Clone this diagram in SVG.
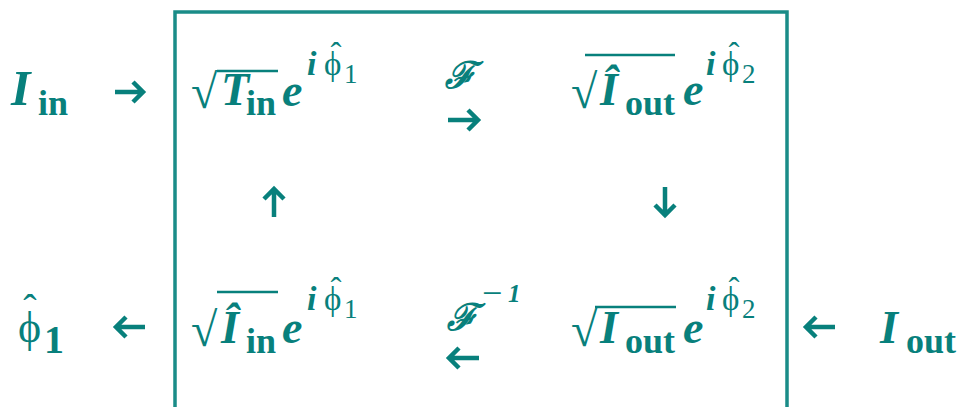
<svg xmlns="http://www.w3.org/2000/svg" width="962" height="407" viewBox="0 0 962 407">
<style>
text{fill:#08807c;font-family:"Liberation Serif","Times New Roman",serif}
.bi{font-weight:bold;font-style:italic;font-size:46px}
.si{font-weight:bold;font-style:italic;font-size:34px}
.b{font-weight:bold;font-style:normal;font-size:36px}
.r{font-weight:normal;font-style:normal;font-size:33px}
.rs{font-weight:normal;font-style:normal;font-size:27px}
.hat{font-weight:normal;font-style:normal;font-size:33px;text-anchor:middle}
.rad{font-weight:normal;font-style:normal;font-size:48px}
.scr{font-family:"DejaVu Serif",serif;font-style:italic;font-weight:bold;font-size:37px}
.ar{fill:none;stroke:#08807c;stroke-width:4.5;stroke-linecap:butt;stroke-linejoin:miter}
.ov{stroke:#08807c;stroke-width:2.5}
.frame{fill:none;stroke:#1a8c88;stroke-width:3.5}
</style>
<path class="frame" d="M175,410 V12 H787 V410"/>
<g id="in-label">
<text class="bi" style="font-size:50px" x="11" y="105">I<tspan class="b" x="38" y="115">in</tspan></text>
</g>
<g id="out-label">
<text class="bi" x="880" y="343">I<tspan class="b" x="906" y="353">out</tspan></text>
</g>
<g id="phi-label">
<text class="r" style="font-size:44px" x="18" y="342">ϕ<tspan class="hat" style="font-size:40px" x="30" y="322">ˆ</tspan><tspan class="b" style="font-size:40px" x="44" y="353">1</tspan></text>
</g>
<g id="node-tl">
<line class="ov" x1="217" y1="71" x2="278" y2="71"/>
<text class="bi" x="191" y="108"><tspan class="rad">√</tspan><tspan x="221" y="105">T</tspan><tspan class="b" x="246" y="115">in</tspan><tspan x="282" y="106">e</tspan></text>
<text class="si" x="307" y="75">i<tspan class="r" x="324">ϕ</tspan><tspan class="hat" x="336" y="66">ˆ</tspan><tspan class="rs" x="344" y="83">1</tspan></text>
</g>
<g id="node-tr">
<line class="ov" x1="585" y1="55" x2="675" y2="55"/>
<text class="bi" x="571" y="108"><tspan class="rad">√</tspan><tspan x="600" y="105">Î</tspan><tspan class="b" x="625" y="115">out</tspan><tspan x="683" y="105">e</tspan></text>
<text class="si" x="706" y="75">i<tspan class="r" x="722">ϕ</tspan><tspan class="hat" x="734" y="66">ˆ</tspan><tspan class="rs" x="742" y="83">2</tspan></text>
</g>
<g id="node-bl">
<line class="ov" x1="217" y1="292" x2="278" y2="292"/>
<text class="bi" x="191" y="346"><tspan class="rad">√</tspan><tspan x="221" y="343">Î</tspan><tspan class="b" x="246" y="353">in</tspan><tspan x="282" y="343">e</tspan></text>
<text class="si" x="307" y="310">i<tspan class="r" x="324">ϕ</tspan><tspan class="hat" x="336" y="301">ˆ</tspan><tspan class="rs" x="344" y="318">1</tspan></text>
</g>
<g id="node-br">
<line class="ov" x1="595" y1="307" x2="676" y2="307"/>
<text class="bi" x="571" y="346"><tspan class="rad">√</tspan><tspan x="600" y="343">I</tspan><tspan class="b" x="625" y="353">out</tspan><tspan x="683" y="343">e</tspan></text>
<text class="si" x="706" y="310">i<tspan class="r" x="722">ϕ</tspan><tspan class="hat" x="734" y="301">ˆ</tspan><tspan class="rs" x="742" y="318">2</tspan></text>
</g>
<g id="label-F">
<text class="scr" x="445" y="88">ℱ</text>
</g>
<g id="label-Finv">
<text class="scr" x="447" y="330">ℱ<tspan class="r" style="font-family:'Liberation Serif',serif;font-size:36px" x="482" y="305">−</tspan><tspan class="si" style="font-family:'Liberation Serif',serif;font-size:25px" x="508" y="302">1</tspan></text>
</g>
<g id="connectors">
<path class="ar" d="M115,92 H142 M133,82 L143,92 L133,102"/>
<path class="ar" d="M448,120 H477 M468,110 L478,120 L468,130"/>
<path class="ar" d="M274,217 V190 M264,199 L274,189 L284,199"/>
<path class="ar" d="M665,187 V214 M655,205 L665,215 L675,205"/>
<path class="ar" d="M145,327 H117 M126,317 L116,327 L126,337"/>
<path class="ar" d="M479,358 H450 M459,348 L449,358 L459,368"/>
<path class="ar" d="M835,327 H807 M816,317 L806,327 L816,337"/>
</g>
</svg>
